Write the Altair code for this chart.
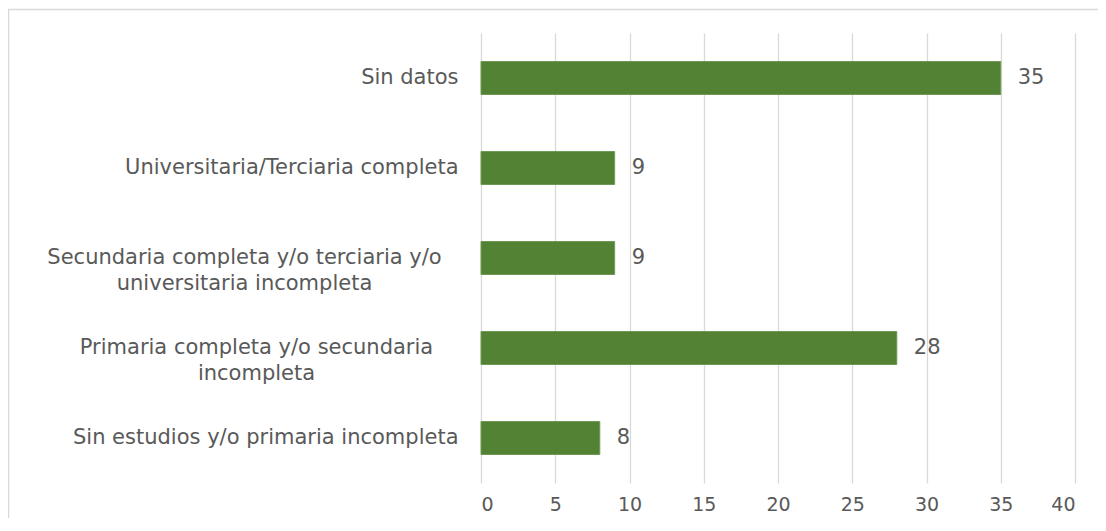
import altair as alt
import pandas as pd

categories = [
    "Sin datos",
    "Universitaria/Terciaria completa",
    "Secundaria completa y/o terciaria y/o|universitaria incompleta",
    "Primaria completa y/o secundaria |incompleta",
    "Sin estudios y/o primaria incompleta",
]
values = [35, 9, 9, 28, 8]
x_ticks = [0, 5, 10, 15, 20, 25, 30, 35, 40]

df = pd.DataFrame({"cat": categories, "val": values})

FONT = "DejaVu Sans"
GRAY = "#595959"

y_enc = alt.Y(
    "cat:N",
    sort=categories,
    title=None,
    scale=alt.Scale(paddingInner=0.633, paddingOuter=0.3165),
    axis=alt.Axis(
        domain=False,
        ticks=False,
        grid=False,
        labelFont=FONT,
        labelFontSize=21,
        labelColor=GRAY,
        labelLimit=600,
        labelLineHeight=26,
        labelExpr="split(datum.label, '|')",
        labelAlign={
            "condition": {"test": "indexof(datum.value, '|') >= 0", "value": "center"},
            "value": "right",
        },
        labelPadding={
            "condition": [
                {"test": "indexof(datum.value, 'Secundaria') == 0", "value": 237},
                {"test": "indexof(datum.value, 'Primaria') == 0", "value": 225},
            ],
            "value": 23,
        },
    ),
)

x_enc = alt.X(
    "val:Q",
    title=None,
    scale=alt.Scale(domain=[0, 40], nice=False),
    axis=alt.Axis(
        values=x_ticks,
        domain=False,
        ticks=False,
        grid=True,
        gridColor="#d9d9d9",
        gridWidth=1.3,
        labelFont=FONT,
        labelFontSize=19,
        labelColor=GRAY,
        labelPadding=12,
    ),
)

base = alt.Chart(df)

bars = base.mark_bar(color="#548235", stroke="#6e9a55", strokeWidth=1).encode(x=x_enc, y=y_enc)

labels = base.mark_text(
    align="left", baseline="middle", dx=17, font=FONT, fontSize=21, color=GRAY
).encode(
    x=alt.X("val:Q"),
    y=alt.Y("cat:N", sort=categories),
    text="val:Q",
)

frame = alt.Chart(pd.DataFrame({"k": [0]})).mark_rect(
    fill=None, stroke="#d9d9d9", strokeWidth=1.5, clip=False
).encode(
    x=alt.value(-472.5),
    x2=alt.value(660),
    y=alt.value(-23.5),
    y2=alt.value(540),
)

chart = (
    alt.layer(frame, bars, labels)
    .properties(
        width=594,
        height=450,
        background="white",
        autosize=alt.AutoSizeParams(type="none"),
        padding={"left": 473, "top": 25, "right": 23, "bottom": 35},
    )
    .configure_view(strokeWidth=0, stroke=None)
    .configure_axis(domain=False, ticks=False)
)

chart.save("out.html", embed_options={"renderer": "svg", "actions": False})
